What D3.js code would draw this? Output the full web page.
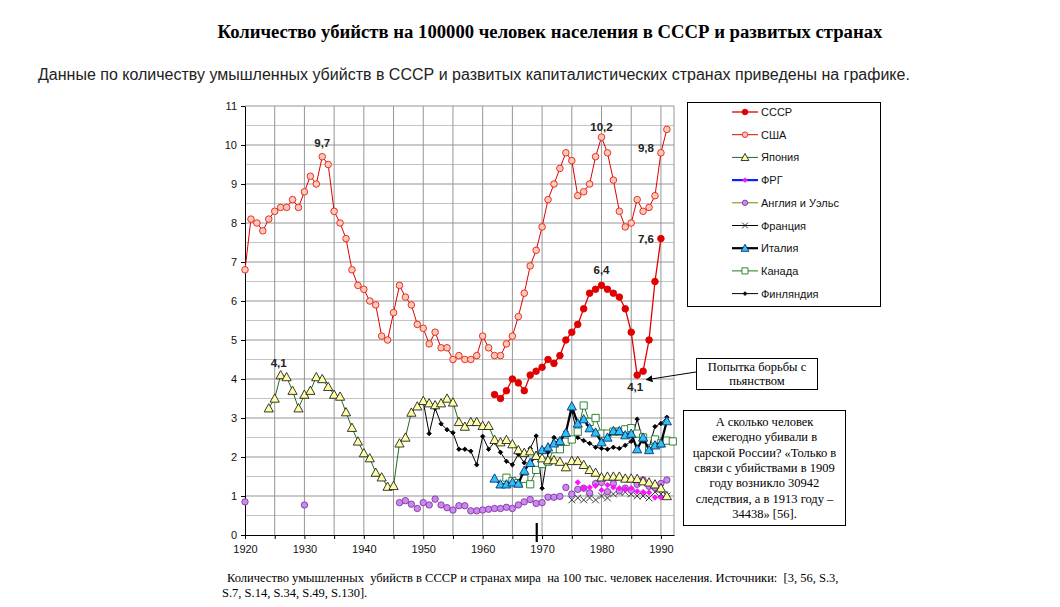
<!DOCTYPE html>
<html>
<head>
<meta charset="utf-8">
<script src="https://cdn.jsdelivr.net/npm/d3@7"></script>
<style>
  body { margin: 0; background: #fff; }
  svg text { font-family: Arial, "Liberation Sans", sans-serif; }
  .serif { font-family: "Times New Roman", "Liberation Serif", serif !important; }
</style>
</head>
<body>
<svg id="chart" width="1060" height="607"></svg>
<script>
// values, one value per year
const usaStart = 1920;
const usa = [6.8, 8.1, 8.0, 7.8, 8.1, 8.3, 8.4, 8.4, 8.6, 8.4,
  8.8, 9.2, 9.0, 9.7, 9.5, 8.3, 8.0, 7.6, 6.8, 6.4,
  6.3, 6.0, 5.9, 5.1, 5.0, 5.7, 6.4, 6.1, 5.9, 5.4,
  5.3, 4.9, 5.2, 4.8, 4.8, 4.5, 4.6, 4.5, 4.5, 4.6,
  5.1, 4.8, 4.6, 4.6, 4.9, 5.1, 5.6, 6.2, 6.9, 7.3,
  7.9, 8.6, 9.0, 9.4, 9.8, 9.6, 8.7, 8.8, 9.0, 9.7,
  10.2, 9.8, 9.1, 8.3, 7.9, 8.0, 8.6, 8.3, 8.4, 8.7,
  9.8, 10.4];

const ussrStart = 1962;
const ussr = [3.6, 3.5, 3.7, 4.0, 3.9, 3.7, 4.1, 4.2,
  4.3, 4.5, 4.4, 4.6, 5.0, 5.2, 5.4, 5.8, 6.2, 6.3,
  6.4, 6.3, 6.2, 6.1, 5.8, 5.2, 4.1, 4.2, 5.0, 6.5,
  7.6];

const japanStart = 1924;
const japan = [3.25, 3.5, 4.1, 4.05, 3.7, 3.25,
  3.6, 3.7, 4.05, 4.0, 3.8, 3.6, 3.55, 3.15, 2.75, 2.4,
  2.1, 1.97, 1.6, 1.48, 1.24, 1.26, 2.35, 2.5, 3.14, 3.3,
  3.44, 3.38, 3.33, 3.38, 3.5, 3.4, 2.9, 2.78, 2.9, 2.9,
  2.8, 2.8, 2.44, 2.38, 2.44, 2.33, 2.18, 2.11, 2.15, 2.03,
  1.97, 1.92, 1.92, 1.88, 1.74, 1.9, 1.9, 1.8, 1.67, 1.6,
  1.48, 1.5, 1.5, 1.5, 1.45, 1.45, 1.44, 1.38, 1.35, 1.3,
  1.2, 1.0];

const frgStart = 1976;
const frg = [1.35, 1.2, 1.22, 1.26, 1.15, 1.28, 1.22, 1.2, 1.18, 1.2,
  1.12, 1.1, 1.09, 0.96, 0.96];

const ewYears = [1920, 1930].concat(d3.range(1946, 1992));
const ew = [0.85, 0.77,
  0.83, 0.88, 0.79, 0.68,
  0.83, 0.77, 0.92, 0.77, 0.7, 0.64, 0.75, 0.75, 0.62, 0.62,
  0.64, 0.66, 0.68, 0.68, 0.71, 0.68, 0.77, 0.85, 0.91, 0.81,
  0.83, 0.97, 0.97, 0.99, 1.22, 1.05, 1.17, 1.2, 1.08, 1.32,
  1.35, 1.11, 1.32, 1.13, 1.2, 1.15, 1.3, 1.41, 1.25, 1.22,
  1.32, 1.41];

const franceStart = 1975;
const france = [0.9, 0.95, 0.9, 0.95, 0.9, 1.0, 0.95, 1.05, 1.1, 1.1,
  1.05, 1.0, 1.0, 0.95, 1.1, 1.05, 1.0];

const italyStart = 1962;
const italy = [1.45, 1.3, 1.3, 1.35, 1.32, 1.65, 1.85, 2.03,
  2.18, 2.25, 2.35, 2.41, 2.62, 3.3, 2.86, 2.97, 2.74, 2.63,
  2.38, 2.5, 2.67, 2.67, 2.56, 2.6, 2.2, 2.5, 2.18, 2.3,
  2.35, 2.92];

const canadaStart = 1964;
const canada = [1.47, 1.38, 1.33, 1.44, 1.3, 1.67,
  1.82, 1.88, 2.2, 2.2, 2.39, 2.45, 2.65, 3.32, 2.9, 3.0,
  2.6, 2.6, 2.65, 2.65, 2.71, 2.74, 2.6, 2.5, 2.22, 2.45,
  2.35, 2.42, 2.4];

const finlandStart = 1950;
const finland = [3.42, 2.6, 3.25, 2.85, 2.7, 2.62, 2.2, 2.2, 2.15, 1.8,
  2.53, 2.2, 2.38, 2.12, 1.89, 1.8, 2.07, 1.85, 2.22, 2.54,
  1.2, 2.12, 2.5, 2.42, 2.65, 3.2, 2.5, 2.42, 2.35, 2.25,
  2.22, 2.2, 2.25, 2.22, 2.3, 2.4, 2.97, 2.4, 2.24, 2.78,
  2.86, 3.02];

const yTicks = d3.range(0, 12);
const xTicks = d3.range(1920, 1995, 5);

// data labels: [year, value, text, anchor, dx, dy]
const usaLabels = [[1933, 9.7, '9,7', 'middle', 0, -10], [1980, 10.2, '10,2', 'middle', 0, -6], [1990, 9.8, '9,8', 'end', -7, -1]];
const ussrLabels = [[1980, 6.4, '6,4', 'middle', 0, -11], [1990, 7.6, '7,6', 'end', -7, 4], [1986, 4.1, '4,1', 'middle', -2, 16]];
const japanLabels = [[1926, 4.1, '4,1', 'middle', -2, -8]];

const byStart = (start, vals) => vals.map((v, i) => ({year: start + i, value: v}));
const byYears = (years, vals) => vals.map((v, i) => ({year: years[i], value: v}));

const series = [
  {name: 'СССР', data: byStart(ussrStart, ussr), line: '#e00000', width: 1.3, marker: 'circle', size: 3.3, fill: '#e00000', stroke: '#e00000'},
  {name: 'США', data: byStart(usaStart, usa), line: '#e00000', width: 1, marker: 'circle', size: 3.3, fill: '#ffc8b0', stroke: '#e02020'},
  {name: 'Япония', data: byStart(japanStart, japan), line: '#1f6e1f', width: 1, marker: 'triangle', size: 4.6, fill: '#ffffa8', stroke: '#222'},
  {name: 'ФРГ', data: byStart(frgStart, frg), line: '#1020ff', width: 2.2, noLine: true, marker: 'diamond', size: 2.7, fill: '#ff10ff', stroke: '#ff10ff'},
  {name: 'Англия и Уэльс', data: byYears(ewYears, ew), line: '#808000', width: 1, noLine: true, marker: 'circle', size: 3.2, fill: '#cc88ee', stroke: '#7a3aa0'},
  {name: 'Франция', data: byStart(franceStart, france), line: '#000', width: 1, noLine: true, marker: 'x', size: 3.4, fill: 'none', stroke: '#222'},
  {name: 'Италия', data: byStart(italyStart, italy), line: '#000', width: 2.2, marker: 'triangle', size: 4.6, fill: '#2cc4f4', stroke: '#10307a'},
  {name: 'Канада', data: byStart(canadaStart, canada), line: '#1f7a1f', width: 1, marker: 'square', size: 3.6, fill: '#fff', stroke: '#1f7a1f'},
  {name: 'Финляндия', data: byStart(finlandStart, finland), line: '#000', width: 1, marker: 'diamond', size: 2.2, fill: '#000', stroke: '#000'}
];

const markerPath = (type, s) => {
  if (type === 'circle') return `M${-s} 0 a${s} ${s} 0 1 0 ${2 * s} 0 a${s} ${s} 0 1 0 ${-2 * s} 0Z`;
  if (type === 'triangle') return `M0 ${-s} L${s} ${s * 0.8} L${-s} ${s * 0.8}Z`;
  if (type === 'square') return `M${-s} ${-s}h${2 * s}v${2 * s}h${-2 * s}Z`;
  if (type === 'diamond') return `M0 ${-s}L${s} 0L0 ${s}L${-s} 0Z`;
  return `M${-s} ${-s}L${s} ${s}M${s} ${-s}L${-s} ${s}`;
};

const svg = d3.select('#chart');
const x = d3.scaleLinear().domain([1920, 1992.2]).range([245, 674]);
const y = d3.scaleLinear().domain([0, 11]).range([535, 106]);

// title and intro line
svg.append('text').attr('class', 'serif').attr('x', 550).attr('y', 38)
  .attr('text-anchor', 'middle').attr('font-size', 18.7).attr('font-weight', 'bold')
  .text('Количество убийств на 100000 человек населения в СССР и развитых странах');
svg.append('text').attr('x', 38).attr('y', 80).attr('font-size', 16).attr('fill', '#222')
  .text('Данные по количеству умышленных убийств в СССР и развитых капиталистических странах приведены на графике.');

// grid
const grid = svg.append('g');
grid.selectAll('.hy').data(d3.range(0.5, 11, 1)).join('line')
  .attr('x1', x(1920)).attr('x2', x.range()[1]).attr('y1', d => y(d)).attr('y2', d => y(d))
  .attr('stroke', '#c4c4c4');
grid.selectAll('.hm').data(yTicks.slice(1)).join('line')
  .attr('x1', x(1920)).attr('x2', x.range()[1]).attr('y1', d => y(d)).attr('y2', d => y(d))
  .attr('stroke', '#959595');
grid.selectAll('.vx').data(xTicks.slice(1)).join('line')
  .attr('x1', d => x(d)).attr('x2', d => x(d)).attr('y1', y(0)).attr('y2', y(11))
  .attr('stroke', '#959595');
grid.append('line').attr('x1', x.range()[1]).attr('x2', x.range()[1]).attr('y1', y(0)).attr('y2', y(11))
  .attr('stroke', '#959595');

// axes
const yAxis = svg.append('g').attr('transform', `translate(${x(1920)},0)`)
  .call(d3.axisLeft(y).tickValues(yTicks).tickSize(4).tickPadding(4).tickSizeOuter(0));
const xAxis = svg.append('g').attr('transform', `translate(0,${y(0)})`)
  .call(d3.axisBottom(x).tickValues(xTicks).tickSize(4).tickPadding(6).tickSizeOuter(0)
    .tickFormat(d => d % 10 === 0 ? d : ''));
[yAxis, xAxis].forEach(a => {
  a.selectAll('text').attr('font-size', 11).attr('fill', '#111')
    .attr('font-family', 'Arial, "Liberation Sans", sans-serif');
  a.select('.domain').attr('stroke', '#000');
});

// the small mark under the axis near 1969
svg.append('line').attr('x1', x(1969.1)).attr('x2', x(1969.1)).attr('y1', y(0) - 12).attr('y2', y(0) + 7)
  .attr('stroke', '#000').attr('stroke-width', 2.2);

// series, drawn back to front so USSR/USA stay on top
const line = d3.line().x(d => x(d.year)).y(d => y(d.value));
const plot = svg.append('g');
series.slice().reverse().forEach(s => {
  const g = plot.append('g');
  if (!s.noLine) {
    let runs = [], cur = [];
    s.data.forEach((d, i) => {
      if (i > 0 && d.year - s.data[i - 1].year > 1) { runs.push(cur); cur = []; }
      cur.push(d);
    });
    runs.push(cur);
    runs.forEach(r => g.append('path').attr('d', line(r)).attr('fill', 'none')
      .attr('stroke', s.line).attr('stroke-width', s.width));
  }
  g.selectAll('path.m').data(s.data).join('path').attr('class', 'm')
    .attr('transform', d => `translate(${x(d.year)},${y(d.value)})`)
    .attr('d', markerPath(s.marker, s.size))
    .attr('fill', s.fill).attr('stroke', s.stroke).attr('stroke-width', 0.9);
});

// value labels
const labels = svg.append('g').attr('font-size', 11.5).attr('font-weight', 'bold').attr('fill', '#222');
[usaLabels, ussrLabels, japanLabels].forEach(set => set.forEach(([yr, v, t, anchor, dx, dy]) => {
  labels.append('text').attr('x', x(yr) + dx).attr('y', y(v) + dy)
    .attr('text-anchor', anchor).text(t);
}));

// legend
const legend = svg.append('g');
legend.append('rect').attr('x', 687.5).attr('y', 102.5).attr('width', 193).attr('height', 204)
  .attr('fill', '#fff').attr('stroke', '#000');
series.forEach((s, i) => {
  const ly = 112 + i * 22.7;
  legend.append('line').attr('x1', 732).attr('x2', 758).attr('y1', ly).attr('y2', ly)
    .attr('stroke', s.line).attr('stroke-width', s.width);
  legend.append('path').attr('transform', `translate(745,${ly})`).attr('d', markerPath(s.marker, s.size * 0.85))
    .attr('fill', s.fill).attr('stroke', s.stroke).attr('stroke-width', 0.9);
  legend.append('text').attr('x', 761).attr('y', ly + 4).attr('font-size', 11).attr('fill', '#111').text(s.name);
});

// callouts
const note1 = svg.append('g');
note1.append('rect').attr('x', 696.5).attr('y', 358.5).attr('width', 121).attr('height', 31)
  .attr('fill', '#fff').attr('stroke', '#000');
['Попытка борьбы с', 'пьянством'].forEach((t, i) => note1.append('text').attr('class', 'serif')
  .attr('x', 757).attr('y', 371 + i * 13.5).attr('text-anchor', 'middle').attr('font-size', 12.5).text(t));
svg.append('defs').append('marker').attr('id', 'arr').attr('viewBox', '0 0 10 10')
  .attr('refX', 2).attr('refY', 5).attr('markerWidth', 7).attr('markerHeight', 7).attr('orient', 'auto-start-reverse')
  .append('path').attr('d', 'M0 0 L10 5 L0 10Z').attr('fill', '#000');
svg.append('line').attr('x1', 696).attr('y1', 372).attr('x2', 651).attr('y2', 379)
  .attr('stroke', '#000').attr('stroke-width', 1).attr('marker-end', 'url(#arr)');

const note2 = svg.append('g');
note2.append('rect').attr('x', 683.5).attr('y', 410.5).attr('width', 162).attr('height', 115)
  .attr('fill', '#fff').attr('stroke', '#000');
['А сколько человек', 'ежегодно убивали в', 'царской России? «Только в', 'связи с убийствами в 1909',
  'году возникло 30942', 'следствия, а в 1913 году –', '34438» [56].']
  .forEach((t, i) => note2.append('text').attr('class', 'serif')
    .attr('x', 764.5).attr('y', 426 + i * 15.3).attr('text-anchor', 'middle').attr('font-size', 12.5).text(t));

// caption
['Количество умышленных  убийств в СССР и странах мира  на 100 тыс. человек населения. Источники:  [3, 56, S.3,',
  'S.7, S.14, S.34, S.49, S.130].']
  .forEach((t, i) => svg.append('text').attr('class', 'serif').attr('x', i === 0 ? 227 : 222)
    .attr('y', 582 + i * 14.5).attr('font-size', 12.5).style('white-space', 'pre').text(t));
</script>
</body>
</html>
